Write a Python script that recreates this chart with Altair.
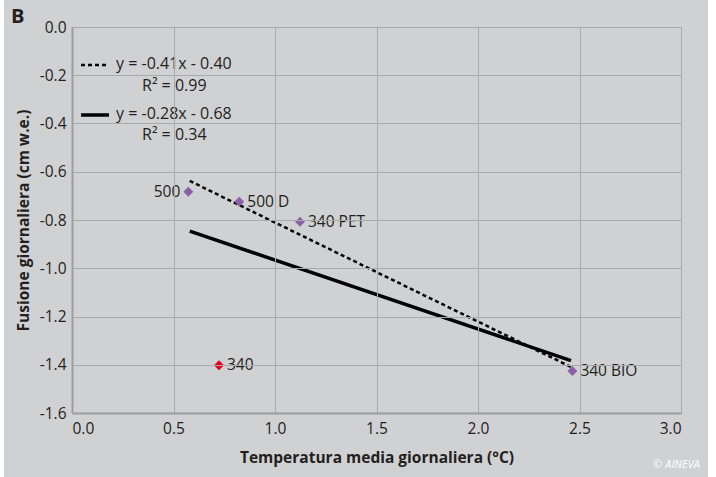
import altair as alt
import pandas as pd

# Data
labels = ["500", "500 D", "340 PET", "340", "340 BIO"]
temp = [0.573, 0.824, 1.123, 0.724, 2.465]
fusione = [-0.683, -0.724, -0.807, -1.402, -1.426]
groups = ["a", "a", "a", "b", "a"]

# Trend line endpoints
dash_x = [0.58, 2.46]
dash_y = [-0.638, -1.41]
solid_x = [0.58, 2.458]
solid_y = [-0.846, -1.383]

x_ticks = [0.0, 0.5, 1.0, 1.5, 2.0, 2.5, 3.0]
y_ticks = [0.0, -0.2, -0.4, -0.6, -0.8, -1.0, -1.2, -1.4, -1.6]

FONT = "Open Sans"
TXT = "#231f20"
BG = "#d0d1d3"
GRID = "#a9aaac"
FS = 15.5

LABEL_EXPR = "datum.value < 0 ? '-' + format(-datum.value, '.1f') : format(datum.value, '.1f')"

pts = pd.DataFrame({"x": temp, "y": fusione, "label": labels, "g": groups})
dash = pd.DataFrame({"x": dash_x, "y": dash_y})
solid = pd.DataFrame({"x": solid_x, "y": solid_y})

xs = alt.Scale(domain=[0, 3], nice=False, zero=False)
ys = alt.Scale(domain=[-1.6, 0], nice=False, zero=False)

xax = alt.Axis(values=x_ticks, labelExpr=LABEL_EXPR, title="Temperatura media giornaliera (°C)",
               grid=True, gridColor=GRID, gridWidth=1, ticks=False, domain=True,
               domainColor="#9d9d9f", domainWidth=2, labelPadding=8,
               labelFontSize=FS, labelColor=TXT, labelFont=FONT,
               titleFont=FONT, titleFontSize=FS, titleFontWeight="bold",
               titleColor=TXT, titlePadding=14, zindex=1)
yax = alt.Axis(values=y_ticks, labelExpr=LABEL_EXPR, title="Fusione giornaliera (cm w.e.)",
               grid=True, gridColor=GRID, gridWidth=1, ticks=False, domain=True,
               domainColor="#9d9d9f", domainWidth=2, labelPadding=6,
               labelFontSize=FS, labelColor=TXT, labelFont=FONT,
               titleFont=FONT, titleFontSize=FS, titleFontWeight="bold",
               titleColor=TXT, titlePadding=8, zindex=1)

one = pd.DataFrame({"a": [0]})

# Outer gray panel
panel = alt.Chart(one).mark_rect(color=BG).encode(
    x=alt.value(-68), x2=alt.value(636), y=alt.value(-27), y2=alt.value(450)
)

base_axes = alt.Chart(pts).mark_point(opacity=0).encode(
    x=alt.X("x:Q", scale=xs, axis=xax),
    y=alt.Y("y:Q", scale=ys, axis=yax),
)

dash_line = alt.Chart(dash).mark_line(color="black", strokeWidth=2.5, strokeDash=[4, 3]).encode(
    x=alt.X("x:Q", scale=xs), y=alt.Y("y:Q", scale=ys)
)
solid_line = alt.Chart(solid).mark_line(color="black", strokeWidth=3.5).encode(
    x=alt.X("x:Q", scale=xs), y=alt.Y("y:Q", scale=ys)
)

points = alt.Chart(pts).mark_point(shape="diamond", filled=True, size=100, opacity=1).encode(
    x=alt.X("x:Q", scale=xs), y=alt.Y("y:Q", scale=ys),
    color=alt.Color("g:N", scale=alt.Scale(domain=["a", "b"], range=["#8c60a6", "#e2001a"]), legend=None),
)

lab_right = alt.Chart(pts).transform_filter(alt.datum.label != "500").mark_text(
    align="left", baseline="middle", dx=8, fontSize=FS, font=FONT, color=TXT
).encode(x=alt.X("x:Q", scale=xs), y=alt.Y("y:Q", scale=ys), text="label:N")
lab_left = alt.Chart(pts).transform_filter(alt.datum.label == "500").mark_text(
    align="right", baseline="middle", dx=-8, fontSize=FS, font=FONT, color=TXT
).encode(x=alt.X("x:Q", scale=xs), y=alt.Y("y:Q", scale=ys), text="label:N")

# Legend (trend equations)
leg_dash = alt.Chart(one).mark_rule(color="black", strokeWidth=2.5, strokeDash=[4, 3]).encode(
    x=alt.value(9), x2=alt.value(34), y=alt.value(38))
leg_solid = alt.Chart(one).mark_rule(color="black", strokeWidth=3.5).encode(
    x=alt.value(9), x2=alt.value(37), y=alt.value(88))

def txt(s, x, y, fs=16, **kw):
    return alt.Chart(one).mark_text(align="left", baseline="middle", fontSize=fs,
                                    font=FONT, color=TXT, **kw).encode(
        x=alt.value(x), y=alt.value(y), text=alt.value(s))

eq1 = txt("y = -0.41x - 0.40", 44, 37)
r1 = txt("R² = 0.99", 70, 59)
eq2 = txt("y = -0.28x - 0.68", 44, 87)
r2 = txt("R² = 0.34", 70, 108)
title_b = txt("B", -61, -10, fs=20, fontWeight="bold")
credit = alt.Chart(one).mark_text(align="right", baseline="middle", fontSize=11,
                                  font=FONT, fontStyle="italic", color="white").encode(
    x=alt.value(628), y=alt.value(438), text=alt.value("© AINEVA"))

chart = alt.layer(
    panel, base_axes, dash_line, solid_line, points, lab_right, lab_left,
    leg_dash, leg_solid, eq1, r1, eq2, r2, title_b, credit
).properties(
    width=609, height=386,
    padding={"left": 72, "top": 27, "right": 35, "bottom": 64},
    autosize=alt.AutoSizeParams(type="none"),
    background="white",
).configure_view(stroke="#9d9d9f", strokeWidth=2)

chart.save("out.html", embed_options={"renderer": "svg", "actions": False})
